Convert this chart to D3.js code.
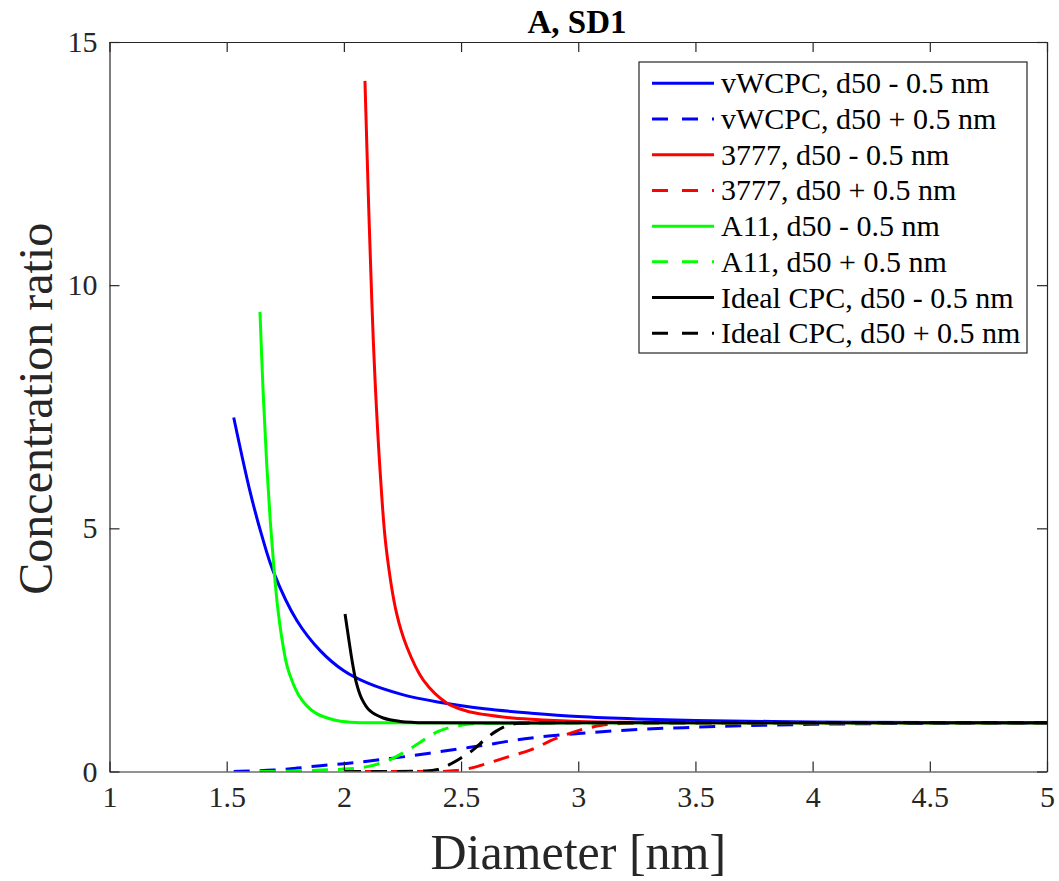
<!DOCTYPE html>
<html>
<head>
<meta charset="utf-8">
<script src="https://cdn.jsdelivr.net/npm/d3@7"></script>
<style>
  body { margin: 0; background: #fff; }
</style>
</head>
<body>
<div id="chart"></div>
<script>
// values
const xTicks = [1, 1.5, 2, 2.5, 3, 3.5, 4, 4.5, 5];
const yTicks = [0, 5, 10, 15];

const vwcpcMinusX = [1.53, 1.6, 1.65, 1.7, 1.8, 1.9, 2.0, 2.1, 2.25, 2.4, 2.6, 2.8, 3.0, 3.25, 3.5, 4.0, 4.5, 5.0];
const vwcpcMinusY = [7.28, 5.75, 4.85, 4.1, 3.1, 2.48, 2.07, 1.82, 1.58, 1.43, 1.29, 1.2, 1.13, 1.08, 1.05, 1.02, 1.01, 1.0];

const vwcpcPlusX = [1.53, 1.6, 1.7, 1.8, 1.9, 2.0, 2.1, 2.2, 2.3, 2.4, 2.5, 2.6, 2.7, 2.8, 2.9, 3.0, 3.2, 3.5, 4.0, 4.5, 5.0];
const vwcpcPlusY = [0, 0.01, 0.03, 0.07, 0.12, 0.16, 0.21, 0.27, 0.33, 0.4, 0.47, 0.54, 0.62, 0.69, 0.74, 0.78, 0.85, 0.91, 0.97, 0.99, 1.0];

const tsiMinusX = [2.09, 2.104, 2.119, 2.133, 2.157, 2.18, 2.225, 2.268, 2.339, 2.439, 2.52, 2.6, 2.72, 2.85, 3.0, 3.25, 3.5, 4.0, 5.0];
const tsiMinusY = [14.2, 11.9, 9.7, 8.05, 6.0, 4.62, 3.25, 2.57, 1.88, 1.41, 1.25, 1.17, 1.1, 1.06, 1.03, 1.01, 1.0, 1.0, 1.0];

const tsiPlusX = [2.09, 2.4, 2.48, 2.55, 2.62, 2.7, 2.8, 2.9, 3.0, 3.1, 3.2, 3.3, 4.0, 5.0];
const tsiPlusY = [0, 0, 0.02, 0.08, 0.18, 0.3, 0.45, 0.67, 0.84, 0.95, 0.99, 1.0, 1.0, 1.0];

const a11MinusX = [1.642, 1.656, 1.671, 1.686, 1.702, 1.717, 1.735, 1.756, 1.78, 1.806, 1.84, 1.88, 1.93, 1.98, 2.05, 2.2, 3.0, 4.0, 5.0];
const a11MinusY = [9.45, 7.75, 6.3, 5.15, 4.15, 3.4, 2.75, 2.2, 1.85, 1.58, 1.36, 1.2, 1.1, 1.04, 1.01, 1.0, 1.0, 1.0, 1.0];

const a11PlusX = [1.642, 1.8, 1.9, 2.0, 2.1, 2.2, 2.3, 2.4, 2.5, 2.6, 2.7, 3.0, 4.0, 5.0];
const a11PlusY = [0, 0.01, 0.03, 0.05, 0.1, 0.25, 0.52, 0.82, 0.95, 0.99, 1.0, 1.0, 1.0, 1.0];

const idealMinusX = [2.005, 2.019, 2.037, 2.052, 2.076, 2.111, 2.168, 2.24, 2.3, 2.4, 3.0, 4.0, 5.0];
const idealMinusY = [3.24, 2.78, 2.22, 1.85, 1.5, 1.25, 1.1, 1.03, 1.01, 1.0, 1.0, 1.0, 1.0];

const idealPlusX = [2.005, 2.2, 2.35, 2.4, 2.45, 2.5, 2.55, 2.6, 2.65, 2.7, 2.75, 2.8, 3.0, 4.0, 5.0];
const idealPlusY = [0, 0, 0.01, 0.04, 0.14, 0.28, 0.44, 0.65, 0.83, 0.95, 0.99, 1.0, 1.0, 1.0, 1.0];

const seriesNames = [
  "vWCPC, d50 - 0.5 nm", "vWCPC, d50 + 0.5 nm",
  "3777, d50 - 0.5 nm", "3777, d50 + 0.5 nm",
  "A11, d50 - 0.5 nm", "A11, d50 + 0.5 nm",
  "Ideal CPC, d50 - 0.5 nm", "Ideal CPC, d50 + 0.5 nm"
];
const seriesX = [vwcpcMinusX, vwcpcPlusX, tsiMinusX, tsiPlusX, a11MinusX, a11PlusX, idealMinusX, idealPlusX];
const seriesY = [vwcpcMinusY, vwcpcPlusY, tsiMinusY, tsiPlusY, a11MinusY, a11PlusY, idealMinusY, idealPlusY];
const seriesColor = ["#0000ff", "#0000ff", "#ff0000", "#ff0000", "#00ff00", "#00ff00", "#000000", "#000000"];
const seriesDashed = [false, true, false, true, false, true, false, true];

const W = 1059, H = 881;
const pLeft = 109.5, pRight = 1047, pTop = 42, pBottom = 771.5;
const axisColor = "#262626";
const serif = "Liberation Serif";

const svg = d3.select("#chart").append("svg")
  .attr("width", W).attr("height", H)
  .style("font-family", serif);

const x = d3.scaleLinear().domain([1, 5]).range([pLeft, pRight]);
const y = d3.scaleLinear().domain([0, 15]).range([pBottom, pTop]);

// clip to plot box
svg.append("clipPath").attr("id", "clip")
  .append("rect").attr("x", pLeft).attr("y", pTop)
  .attr("width", pRight - pLeft).attr("height", pBottom - pTop);

const solidLine = d3.line()
  .x(d => x(d[0]))
  .y(d => y(d[1]))
  .curve(d3.curveCatmullRom.alpha(0.5));
const dashLine = d3.line()
  .x(d => x(d[0]))
  .y(d => y(d[1]))
  .curve(d3.curveMonotoneX);

const plot = svg.append("g").attr("clip-path", "url(#clip)");
for (let i = 0; i < seriesNames.length; i++) {
  const pts = seriesX[i].map((v, j) => [v, seriesY[i][j]]);
  plot.append("path")
    .attr("d", seriesDashed[i] ? dashLine(pts) : solidLine(pts))
    .attr("fill", "none")
    .attr("stroke", seriesColor[i])
    .attr("stroke-width", 3)
    .attr("stroke-dasharray", seriesDashed[i] ? "16,10" : null);
}

// axes, MATLAB style box with inward ticks
function styleAxis(g) {
  g.attr("font-family", null);
  g.select(".domain").attr("stroke", axisColor).attr("stroke-width", 1.2);
  g.selectAll(".tick line").attr("stroke", axisColor).attr("stroke-width", 1.2);
  g.selectAll(".tick text")
    .attr("fill", axisColor)
    .style("font-family", serif)
    .style("font-size", "30px");
}

svg.append("g")
  .attr("transform", `translate(0,${pBottom})`)
  .call(d3.axisBottom(x).tickValues(xTicks).tickSize(-10).tickPadding(14).tickSizeOuter(0).tickFormat(d3.format("")))
  .call(styleAxis);
svg.append("g")
  .attr("transform", `translate(0,${pTop})`)
  .call(d3.axisTop(x).tickValues(xTicks).tickSize(-10).tickSizeOuter(0).tickFormat(""))
  .call(styleAxis);
svg.append("g")
  .attr("transform", `translate(${pLeft},0)`)
  .call(d3.axisLeft(y).tickValues(yTicks).tickSize(-10).tickPadding(12).tickSizeOuter(0))
  .call(styleAxis);
svg.append("g")
  .attr("transform", `translate(${pRight},0)`)
  .call(d3.axisRight(y).tickValues(yTicks).tickSize(-10).tickSizeOuter(0).tickFormat(""))
  .call(styleAxis);

// labels
svg.append("text")
  .attr("x", (pLeft + pRight) / 2).attr("y", 869)
  .attr("text-anchor", "middle")
  .attr("fill", axisColor)
  .style("font-family", serif)
  .style("font-size", "50px")
  .text("Diameter [nm]");

svg.append("text")
  .attr("transform", `translate(52,${(pTop + pBottom) / 2 + 2}) rotate(-90)`)
  .attr("text-anchor", "middle")
  .attr("fill", axisColor)
  .style("font-family", serif)
  .style("font-size", "48px")
  .text("Concentration ratio");

svg.append("text")
  .attr("x", 577).attr("y", 33)
  .attr("text-anchor", "middle")
  .style("font-family", serif)
  .style("font-size", "33px")
  .style("font-weight", "bold")
  .attr("fill", "#000")
  .text("A, SD1");

// legend
const legend = svg.append("g");
legend.append("rect")
  .attr("x", 639).attr("y", 62).attr("width", 388).attr("height", 291)
  .attr("fill", "#fff").attr("stroke", axisColor).attr("stroke-width", 1.2);

const rowY = d3.scalePoint().domain(d3.range(seriesNames.length)).range([83.3, 333.3]);
seriesNames.forEach((name, i) => {
  const yy = rowY(i);
  legend.append("line")
    .attr("x1", 652).attr("x2", 714).attr("y1", yy).attr("y2", yy)
    .attr("stroke", seriesColor[i]).attr("stroke-width", 3)
    .attr("stroke-dasharray", seriesDashed[i] ? "16,14" : null);
  legend.append("text")
    .attr("x", 721).attr("y", yy + 10)
    .style("font-family", serif)
    .style("font-size", "30px")
    .attr("fill", "#000")
    .text(name);
});
</script>
</body>
</html>
